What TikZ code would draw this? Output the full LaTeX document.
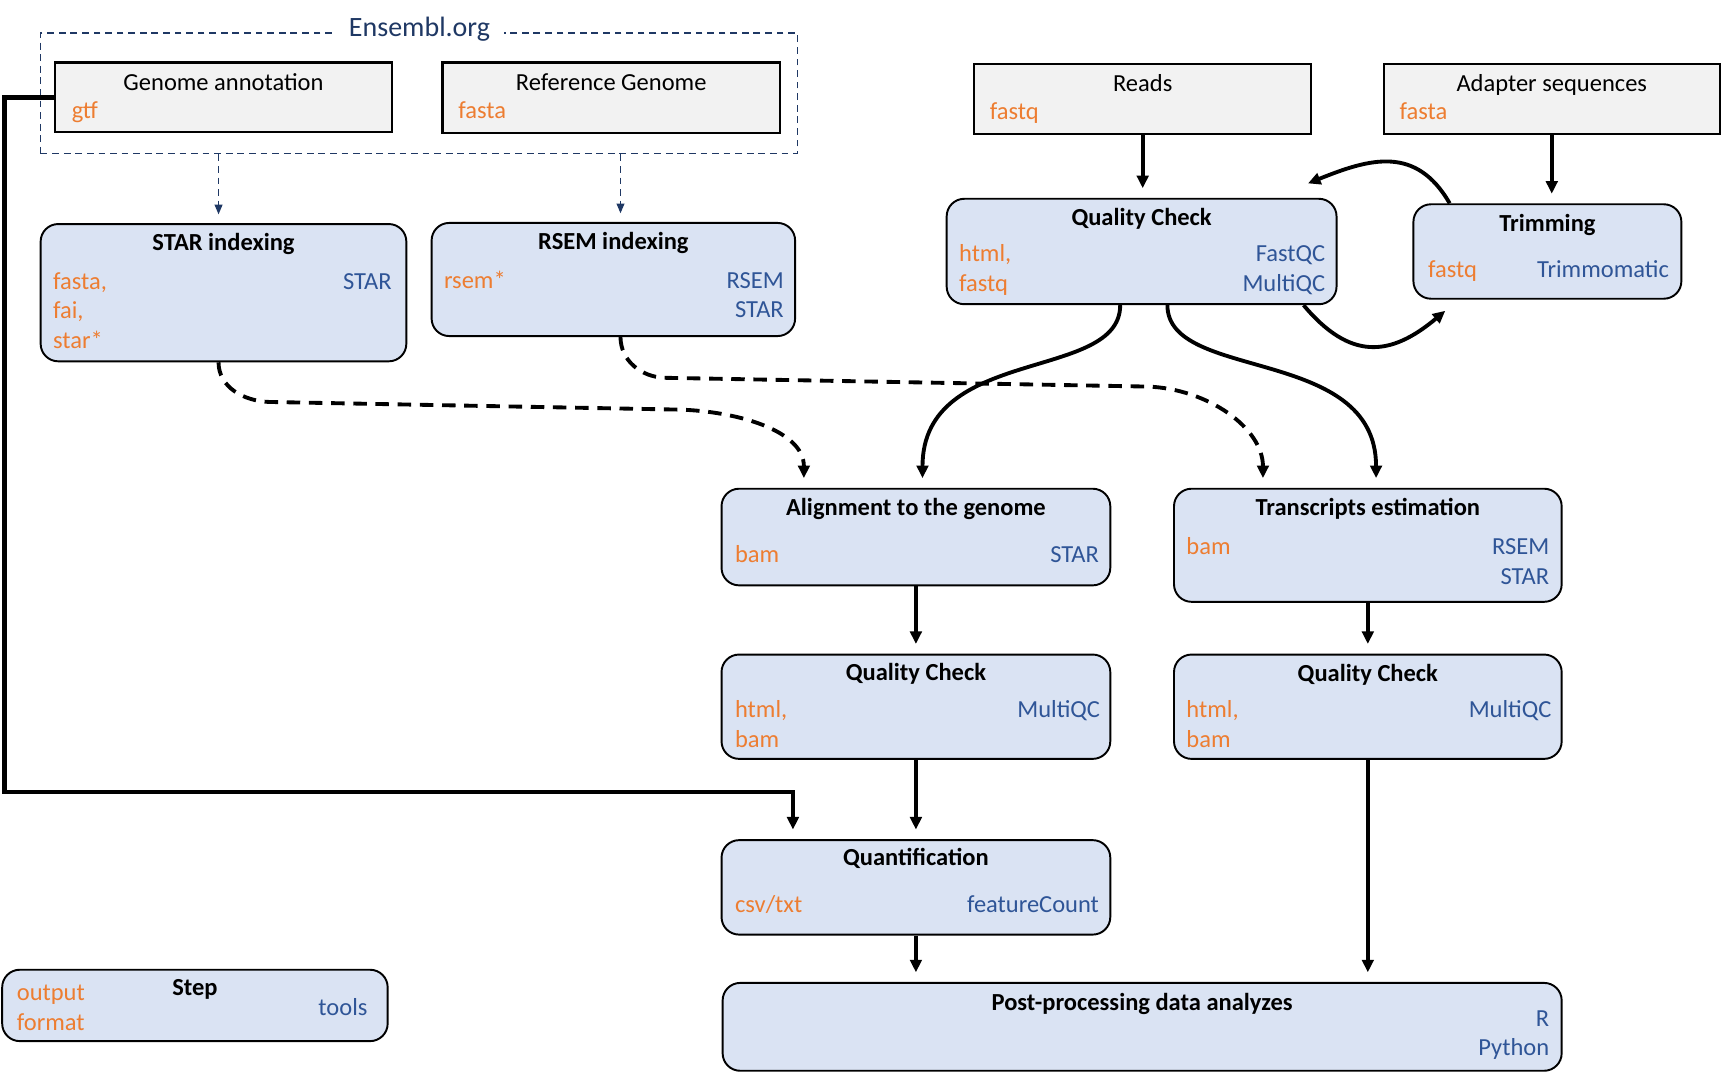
\documentclass[tikz,border=0pt]{standalone}
\usepackage{fontspec}
\usepackage{tikz}
\setmainfont{Carlito}
\usetikzlibrary{arrows.meta}

\definecolor{fmtorange}{HTML}{ED7D31}
\definecolor{toolblue}{HTML}{2F5597}
\definecolor{ensnavy}{HTML}{1F3864}
\definecolor{stepfill}{HTML}{DAE3F3}
\definecolor{srcfill}{HTML}{F2F2F2}
\newcommand{\boxfont}{\fontsize{12.7}{15}\selectfont}

\begin{document}
\begin{tikzpicture}
            [
                x=0.02cm, y=-0.02cm,
                every node/.style={inner sep=0pt, text height=11pt, text depth=1.6pt},
                stepbox/.style 2 args={draw, line width=1pt, fill=stepfill,
                    rounded corners=0.32cm,
                    minimum width=#1*0.02cm, minimum height=#2*0.02cm},
                srcbox/.style 2 args={draw, line width=1.2pt, fill=srcfill,
                    minimum width=#1*0.02cm, minimum height=#2*0.02cm},
                ensbox/.style={draw=ensnavy, line width=0.7pt,
                    dash pattern=on 3.5pt off 2.5pt},
                enslabel/.style={fill=white, text=ensnavy, inner xsep=7pt,
                    text height=12.5pt, font=\fontsize{14.5}{17}\selectfont},
                head/.style={font=\boxfont\bfseries},
                srchead/.style={font=\boxfont},
                fmt/.style={anchor=west, text=fmtorange, font=\boxfont},
                tool/.style={anchor=east, text=toolblue, font=\boxfont},
                flow/.style={line width=2pt,
                    -{Triangle[length=6.5pt, width=6pt]}, shorten >=5pt},
                dflow/.style={flow, dash pattern=on 7pt off 4.5pt},
                ensflow/.style={ensnavy, line width=0.7pt,
                    dash pattern=on 3.5pt off 2.5pt,
                    -{Triangle[length=5pt, width=4pt]}, shorten >=4.5pt}
            ]
            \useasboundingbox (0,0) rectangle (1568,981);

            % inputs
            \node[ensbox, minimum width=689*0.02cm, minimum height=110*0.02cm]
                (ens) at (381.5,85) {};
            \node[enslabel] (enst) at (382,24) {Ensembl.org};

            \node[srcbox={307}{63}] (gannot) at (203.5,88.5) {};
            \node[srchead] (gannott) at ([yshift=-0.36cm]gannot.north) {Genome annotation};
            \node[fmt] (gannotf) at (65,100) {gtf};

            \node[srcbox={307}{64}] (refgen) at (556.5,89) {};
            \node[srchead] (refgent) at ([yshift=-0.36cm]refgen.north) {Reference Genome};
            \node[fmt] (refgenf) at (417,100) {fasta};

            \node[srcbox={307}{64}] (reads) at (1040.5,90) {};
            \node[srchead] (readst) at ([yshift=-0.36cm]reads.north) {Reads};
            \node[fmt] (readsf) at (901,101) {fastq};

            \node[srcbox={306}{64}] (adapt) at (1413,90) {};
            \node[srchead] (adaptt) at ([yshift=-0.36cm]adapt.north) {Adapter sequences};
            \node[fmt] (adaptf) at (1274,101) {fasta};

            % steps
            \node[stepbox={333}{125}] (staridx) at (203.5,266.5) {};
            \node[head] (staridxt) at ([yshift=-0.34cm]staridx.north) {STAR indexing};
            \node[fmt] (staridxf1) at (48,255) {fasta,};
            \node[fmt] (staridxf2) at (48,282) {fai,};
            \node[fmt] (staridxf3) at (48,309) {star*};
            \node[tool] (staridxs) at (357,255) {STAR};

            \node[stepbox={331}{103}] (rsemidx) at (558.5,254.5) {};
            \node[head] (rsemidxt) at ([yshift=-0.34cm]rsemidx.north) {RSEM indexing};
            \node[fmt] (rsemidxf) at (404,254) {rsem*};
            \node[tool] (rsemidxs1) at (714,254) {RSEM};
            \node[tool] (rsemidxs2) at (714,281) {STAR};

            \node[stepbox={355}{96}] (qc1) at (1039.5,229) {};
            \node[head] (qc1t) at ([yshift=-0.34cm]qc1.north) {Quality Check};
            \node[fmt] (qc1f1) at (873,230) {html,};
            \node[fmt] (qc1f2) at (873,257) {fastq};
            \node[tool] (qc1s1) at (1207,230) {FastQC};
            \node[tool] (qc1s2) at (1207,257) {MultiQC};

            \node[stepbox={244}{86}] (trim) at (1409,229) {};
            \node[head] (trimt) at ([yshift=-0.34cm]trim.north) {Trimming};
            \node[fmt] (trimf) at (1300,244) {fastq};
            \node[tool] (trims) at (1520,244) {Trimmomatic};

            \node[stepbox={354}{88}] (align) at (834,489) {};
            \node[head] (alignt) at ([yshift=-0.34cm]align.north) {Alignment to the genome};
            \node[fmt] (alignf) at (669,504) {bam};
            \node[tool] (aligns) at (1001,504) {STAR};

            \node[stepbox={353}{103}] (trans) at (1245.5,496.5) {};
            \node[head] (transt) at ([yshift=-0.34cm]trans.north) {Transcripts estimation};
            \node[fmt] (transf) at (1080,497) {bam};
            \node[tool] (transs1) at (1411,497) {RSEM};
            \node[tool] (transs2) at (1411,524) {STAR};

            \node[stepbox={354}{95}] (qc2) at (834,643.5) {};
            \node[head] (qc2t) at ([yshift=-0.32cm]qc2.north) {Quality Check};
            \node[fmt] (qc2f1) at (669,645) {html,};
            \node[fmt] (qc2f2) at (669,672) {bam};
            \node[tool] (qc2s) at (1002,645) {MultiQC};

            \node[stepbox={353}{95}] (qc3) at (1245.5,643.5) {};
            \node[head] (qc3t) at ([yshift=-0.34cm]qc3.north) {Quality Check};
            \node[fmt] (qc3f1) at (1080,645) {html,};
            \node[fmt] (qc3f2) at (1080,672) {bam};
            \node[tool] (qc3s) at (1413,645) {MultiQC};

            \node[stepbox={354}{86}] (quant) at (834,808) {};
            \node[head] (quantt) at ([yshift=-0.32cm]quant.north) {Quantification};
            \node[fmt] (quantf) at (669,823) {csv/txt};
            \node[tool] (quants) at (1001,823) {featureCount};

            \node[stepbox={764}{80}] (post) at (1040,935) {};
            \node[head] (postt) at ([yshift=-0.36cm]post.north) {Post-processing data analyzes};
            \node[tool] (posts1) at (1411,926) {R};
            \node[tool] (posts2) at (1411,953) {Python};

            % legend
            \node[stepbox={351}{65}] (legend) at (177.5,915.5) {};
            \node[head] (legendt) at ([yshift=-0.32cm]legend.north) {Step};
            \node[fmt] (legendf1) at (15,903) {output};
            \node[fmt] (legendf2) at (15,930) {format};
            \node[tool] (legends) at (335,916) {tools};

            % connectors
            \coordinate (starx) at (199,0);
            \coordinate (rsemx) at (565,0);
            \coordinate (alignx) at (732,0);
            \coordinate (transx) at (1150,0);
            \coordinate (qcl) at (1020,0);
            \coordinate (qcr) at (1063,0);
            \coordinate (alignc) at (840,0);
            \coordinate (transc) at (1253,0);
            \coordinate (trimx) at (1320,0);
            \coordinate (qcx) at (1187,0);
            \coordinate (qcback) at (1191,167);
            \coordinate (trimback) at (1316,283);
            \coordinate (gbend) at (4,721);

            \draw[ensflow] (ens.south -| starx) -- (staridx.north -| starx);
            \draw[ensflow] (ens.south -| rsemx) -- (rsemidx.north -| rsemx);

            \draw[flow] (reads.south) -- (reads.south |- qc1.north);
            \draw[flow] (adapt.south) -- (adapt.south |- trim.north);
            \draw[flow, shorten >=0pt] (trim.north -| trimx)
                to[out=120, in=22, looseness=1.2] (qcback);
            \draw[flow, shorten >=0pt] (qc1.south -| qcx)
                to[out=-50, in=-140, looseness=1.3] (trimback);

            \draw[flow] (qc1.south -| qcl) .. controls +(0,70) and +(0,-130) .. (align.north -| alignc);
            \draw[flow] (qc1.south -| qcr) .. controls +(0,70) and +(0,-130) .. (trans.north -| transc);

            \draw[dflow] (staridx.south -| starx) to[out=-90, in=178] (245,366)
                -- (620,373) to[out=-2, in=90] (align.north -| alignx);
            \draw[dflow] (rsemidx.south -| rsemx) to[out=-90, in=178] (605,344)
                -- (1045,352) to[out=-2, in=90] (trans.north -| transx);

            \draw[flow] (align) -- (qc2);
            \draw[flow] (trans) -- (qc3);
            \draw[flow] (qc2) -- (quant);
            \draw[flow, line width=2.4pt] (gannot.west) -| (gbend) -| ([xshift=-2.24cm]quant.north);
            \draw[flow] (quant.south) -- (quant.south |- post.north);
            \draw[flow] (qc3.south) -- (qc3.south |- post.north);
\end{tikzpicture}
\end{document}
